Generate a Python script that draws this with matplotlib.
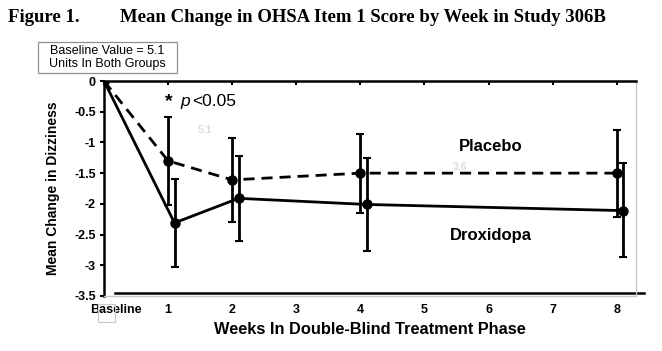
import matplotlib.pyplot as plt
import matplotlib.transforms as mtransforms
from matplotlib.patches import Rectangle

plt.rcParams['font.family'] = ['Liberation Sans', 'DejaVu Sans']

# data
tick_pos = [0, 1, 2, 3, 4, 5, 6, 7, 8]
tick_labels = ['Baseline', '1', '2', '3', '4', '5', '6', '7', '8']

placebo_x = [0, 1, 2, 4, 8]
placebo_y = [0, -1.30, -1.61, -1.50, -1.50]
placebo_hi = [0, -0.59, -0.92, -0.86, -0.80]
placebo_lo = [0, -2.02, -2.30, -2.15, -2.21]

drox_x = [0, 1.1, 2.1, 4.1, 8.1]
drox_y = [0, -2.31, -1.91, -2.01, -2.11]
drox_hi = [0, -1.60, -1.22, -1.26, -1.34]
drox_lo = [0, -3.02, -2.61, -2.76, -2.87]

yticks = [0, -0.5, -1, -1.5, -2, -2.5, -3, -3.5]
ytick_labels = ['0', '-0.5', '-1', '-1.5', '-2', '-2.5', '-3', '-3.5']

fig = plt.figure(figsize=(6.62, 3.51), dpi=100)
ax = fig.add_axes([104/662, 1 - 296/351, 532/662, 215/351])

# error bars only where there is a spread
def err(y, hi, lo):
    return [[a - b for a, b in zip(y, lo)], [b - a for a, b in zip(y, hi)]]

ax.errorbar(placebo_x[1:], placebo_y[1:], yerr=err(placebo_y[1:], placebo_hi[1:], placebo_lo[1:]),
            fmt='none', ecolor='black', elinewidth=2, capsize=3, capthick=1.5)
ax.errorbar(drox_x[1:], drox_y[1:], yerr=err(drox_y[1:], drox_hi[1:], drox_lo[1:]),
            fmt='none', ecolor='black', elinewidth=2, capsize=3, capthick=1.5)
ax.plot(placebo_x, placebo_y, color='black', lw=2, ls=(0, (4, 2.5)), marker='o', ms=6.5)
ax.plot(drox_x, drox_y, color='black', lw=2, marker='o', ms=6.5)

ax.set_xlim(0, 8.3)
ax.set_ylim(-3.5, 0)
ax.set_xticks(tick_pos)
ax.set_xticklabels(tick_labels, fontweight='bold', fontsize=9)
ax.set_yticks(yticks)
ax.set_yticklabels(ytick_labels, fontweight='bold', fontsize=9)
ax.tick_params(axis='x', top=True, bottom=False, labeltop=False, labelbottom=True,
               direction='in', length=3, width=1.5, pad=6)
ax.tick_params(axis='y', direction='out', length=3, width=1.5, pad=3)

# "Baseline" sits a little right of its tick
lbl = ax.get_xticklabels()[0]
lbl.set_transform(lbl.get_transform() + mtransforms.ScaledTranslation(12/100, 0, fig.dpi_scale_trans))

for s in ['left', 'top']:
    ax.spines[s].set_linewidth(1.8)
ax.spines['right'].set_color('#c8c8c8')
ax.spines['bottom'].set_color('#c8c8c8')
ax.spines['right'].set_linewidth(1)
ax.spines['bottom'].set_linewidth(1)

# black base line slightly above the bottom frame
ax.plot([0.17, 8.43], [-3.45, -3.45], color='black', lw=1.8, clip_on=False)

ax.set_xlabel('Weeks In Double-Blind Treatment Phase', fontweight='bold', fontsize=11.8, labelpad=4)
ax.set_ylabel('Mean Change in Dizziness', fontweight='bold', fontsize=10, labelpad=10)

ax.text(0.95, -0.33, '*', fontsize=14, fontweight='bold', ha='left', va='center')
ax.text(1.2, -0.33, 'p', fontsize=12.5, style='italic', ha='left', va='center')
ax.text(1.38, -0.33, '<0.05', fontsize=12.5, ha='left', va='center')
ax.text(6.03, -1.06, 'Placebo', fontsize=12, fontweight='bold', ha='center', va='center')
ax.text(6.03, -2.52, 'Droxidopa', fontsize=12, fontweight='bold', ha='center', va='center')
ax.text(1.58, -0.79, '5.1', fontsize=7.5, color='#dcdcdc', fontweight='bold', ha='center', va='center')
ax.text(5.55, -1.40, '3.6', fontsize=7.5, color='#dcdcdc', fontweight='bold', ha='center', va='center')

fig.text(8/662, 1 - 18/351, 'Figure 1.', family='Liberation Serif', fontweight='bold',
         fontsize=13.5, ha='left', va='center')
fig.text(120/662, 1 - 18/351, 'Mean Change in OHSA Item 1 Score by Week in Study 306B',
         family='Liberation Serif', fontweight='bold', fontsize=13.5, ha='left', va='center')

# note box
fig.add_artist(Rectangle((38/662, 1 - 73/351), 139/662, 31/351, transform=fig.transFigure,
                         fc='white', ec='#909090', lw=0.9))
fig.text(107.5/662, 1 - 57.5/351, 'Baseline Value = 5.1\nUnits In Both Groups', fontsize=9,
         ha='center', va='center', linespacing=1.1)

fig.add_artist(Rectangle((98/662, 1 - 322/351), 17/662, 18/351, transform=fig.transFigure,
                         fill=False, ec='#c8c8c8', lw=0.8))

fig.savefig('out.png', dpi=100, facecolor='white')
